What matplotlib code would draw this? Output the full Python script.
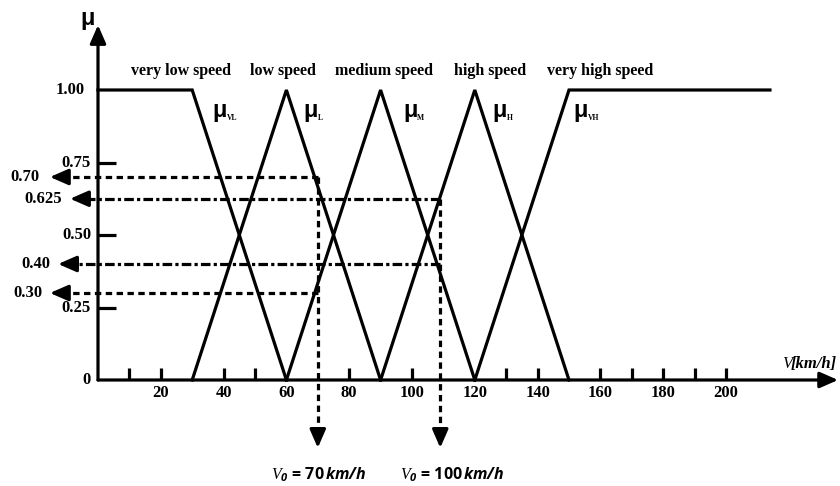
import matplotlib.pyplot as plt

plt.rcParams['mathtext.fontset'] = 'custom'
plt.rcParams['mathtext.it'] = 'Liberation Serif:italic'
plt.rcParams['mathtext.rm'] = 'Open Sans:bold'
plt.rcParams['mathtext.bf'] = 'Open Sans:bold'
plt.rcParams['mathtext.bfit'] = 'Open Sans:bold:italic'

# membership functions (speed breakpoints in km/h, degree of membership)
mf_names = ['VL', 'L', 'M', 'H', 'VH']
mf_speeds = [
    [0, 30, 60],
    [30, 60, 90],
    [60, 90, 120],
    [90, 120, 150],
    [120, 150, 214],
]
mf_degrees = [
    [1, 1, 0],
    [0, 1, 0],
    [0, 1, 0],
    [0, 1, 0],
    [0, 1, 1],
]
categories = ['very low speed', 'low speed', 'medium speed',
              'high speed', 'very high speed']

x_ticks = [10, 20, 40, 50, 80, 100, 130, 140, 160, 170, 180, 190, 200]
x_tick_labels = [20, 40, 60, 80, 100, 120, 140, 160, 180, 200]
y_ticks = [0.25, 0.50, 0.75]
y_tick_labels = ['0', '0.25', '0.50', '0.75', '1.00']
y_tick_values = [0, 0.25, 0.50, 0.75, 1.00]

# read-off values: membership degree and the speed where it is read
read_levels = [0.70, 0.625, 0.40, 0.30]
read_labels = ['0.70', '0.625', '0.40', '0.30']
read_speeds = [70, 109, 109, 70]
v0_values = [70, 100]
v0_speeds = [70, 109]
v0_tops = [0.70, 0.625]

LW = 2.3
SERIF = 'Liberation Serif'

fig = plt.figure(figsize=(8.4, 4.86), dpi=100)
ax = fig.add_axes([0, 0, 1, 1])
# 3.14 px per km/h, origin at px 98; 290 px per unit of mu, origin at px 380
ax.set_xlim(-98 / 3.14, 742 / 3.14)
ax.set_ylim((380 - 486) / 290, 380 / 290)
ax.axis('off')


def arrow(ax, tip, tail, ms=20):
    ax.annotate('', xy=tip, xytext=tail,
                arrowprops=dict(arrowstyle='-|>,head_length=0.55,head_width=0.24',
                                color='black', lw=LW, mutation_scale=ms,
                                shrinkA=0, shrinkB=0))


# axes with arrows
arrow(ax, (0, 1.224), (0, 0))
arrow(ax, (235.7, 0), (0, 0))
ax.text(-3.2, 1.245, 'μ', fontsize=17, fontweight='bold',
        family='Liberation Sans', ha='center', va='center')
unit = ax.text(235.4, 0.055, '[km/h]', fontsize=12, fontweight='bold',
               fontstyle='italic', family=SERIF, ha='right', va='center')
fig.canvas.draw()
bb = unit.get_window_extent()
ax.annotate('V', xy=(bb.x0 + 1, (bb.y0 + bb.y1) / 2),
            xycoords='figure pixels', fontsize=12, fontstyle='italic',
            family=SERIF, ha='right', va='center')

# tick marks
for xt in x_ticks:
    ax.plot([xt, xt], [0, 0.042], color='black', lw=LW,
            solid_capstyle='butt')
for yt in y_ticks:
    ax.plot([0, 5.8], [yt, yt], color='black', lw=LW,
            solid_capstyle='butt')
for xl in x_tick_labels:
    ax.text(xl, -0.045, str(xl), fontsize=12, fontweight='bold',
            family=SERIF, ha='center', va='center')
for lab, val in zip(y_tick_labels, y_tick_values):
    xr = -4.1 if val == 1 else -2.2
    ax.text(xr, val, lab, fontsize=12, fontweight='bold',
            family=SERIF, ha='right', va='center')

# membership functions
for xs, ys in zip(mf_speeds, mf_degrees):
    ax.plot(xs, ys, color='black', lw=LW, solid_joinstyle='miter')

cat_x = [26.4, 58.9, 91, 125, 160]
for cx, cat in zip(cat_x, categories):
    ax.text(cx, 1.066, cat, fontsize=11.5, fontweight='bold',
            family=SERIF, ha='center', va='center')

mu_x = [36.3, 65.3, 97.1, 125.5, 151.3]
for mx, name in zip(mu_x, mf_names):
    ax.text(mx, 0.93, 'μ', fontsize=17, fontweight='bold',
            family='Liberation Sans', ha='left', va='center')
    ax.text(mx + 4.6, 0.905, name, fontsize=5.5, fontweight='bold',
            family=SERIF, ha='left', va='center')

# read-off arrows
tips = [-15.3, -8.9, -12.7, -15.3]
styles = [(0, (2, 1.4)), (0, (3, 1, 1, 1)), (0, (3, 1, 1, 1)), (0, (2, 1.4))]
label_right = [-18.5, -11.5, -15.3, -17.8]
for lev, lab, sp, tip, ls, lr in zip(read_levels, read_labels, read_speeds,
                                     tips, styles, label_right):
    ax.plot([sp, tip + 4.5], [lev, lev], color='black', lw=LW, linestyle=ls)
    arrow(ax, (tip, lev), (tip + 4.8, lev))
    ax.text(lr, lev, lab, fontsize=12, fontweight='bold', family=SERIF,
            ha='right', va='center')

for v0, sp, top in zip(v0_values, v0_speeds, v0_tops):
    ax.plot([sp, sp], [top, -0.18], color='black', lw=LW,
            linestyle=(0, (2, 1.4)))
    arrow(ax, (sp, -0.234), (sp, -0.18))
    ax.text(sp + (0.4 if v0 == 70 else 3.7), -0.328,
            r'$\mathit{V}_{\mathbfit{0}}\mathrm{\,=\,%d\,}\mathbfit{km/h}$' % v0,
            fontsize=11.5, ha='center', va='center')

fig.savefig('out.png', dpi=100, facecolor='white')
